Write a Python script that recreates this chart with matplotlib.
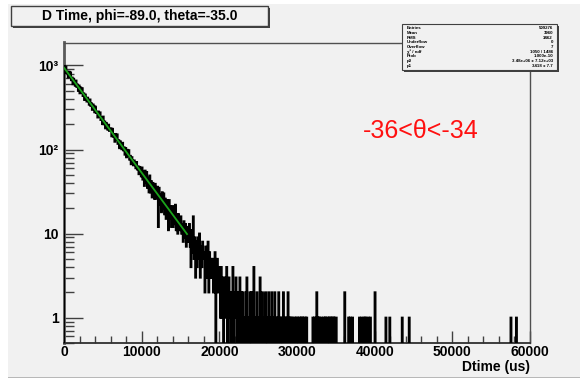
import numpy as np
import matplotlib
matplotlib.use("Agg")
import matplotlib.pyplot as plt
from matplotlib.patches import Rectangle

plt.rcParams['font.family'] = ['Liberation Sans', 'DejaVu Sans']

# ---------------- data ----------------
x_min, x_max = 0, 60000
bin_width = 100
# counts of bins 0..299 (0 - 30000 us)
dense_counts = [
    986, 829, 966, 816, 839, 719, 842, 740, 824, 669,
    717, 599, 693, 632, 574, 660, 557, 591, 499, 576,
    467, 546, 480, 535, 434, 465, 389, 450, 411, 373,
    413, 377, 342, 393, 331, 353, 297, 343, 330, 278,
    323, 274, 281, 241, 282, 248, 276, 225, 240, 201,
    246, 200, 215, 179, 207, 189, 172, 197, 167, 177,
    178, 144, 176, 143, 150, 124, 153, 131, 151, 117,
    129, 104, 125, 113, 101, 120, 98, 106, 87, 104,
    81, 99, 85, 98, 76, 84, 67, 81, 73, 65,
    74, 67, 60, 71, 58, 63, 51, 62, 60, 48,
    61, 44, 55, 37, 56, 40, 54, 35, 46, 31,
    49, 31, 42, 27, 40, 30, 26, 39, 26, 34,
    36, 12, 35, 22, 29, 18, 31, 20, 30, 17,
    26, 15, 25, 17, 11, 25, 15, 21, 12, 21,
    12, 21, 13, 22, 11, 17, 10, 17, 11, 12,
    16, 10, 13, 8, 14, 9, 13, 7, 12, 8,
    9, 13, 7, 4, 11, 6, 16, 5, 9, 3,
    8, 4, 9, 5, 10, 3, 7, 4, 8, 5,
    6, 2, 7, 3, 5, 8, 2, 6, 3, 5,
    3, 5, 2, 4, 6, 0, 3, 5, 2, 4,
    3, 1, 4, 1, 3, 0, 2, 3, 1, 4,
    0, 2, 3, 1, 0, 2, 0, 4, 0, 2,
    1, 3, 0, 2, 0, 1, 3, 0, 2, 0,
    2, 0, 1, 0, 2, 3, 0, 1, 0, 2,
    0, 2, 0, 1, 4, 0, 1, 0, 2, 0,
    1, 0, 3, 0, 1, 2, 0, 1, 0, 2,
    0, 1, 0, 2, 0, 1, 0, 2, 0, 1,
    0, 2, 0, 1, 0, 1, 2, 0, 1, 0,
    1, 0, 2, 0, 1, 0, 1, 0, 2, 0,
    1, 0, 1, 0, 1, 0, 0, 1, 0, 1,
]
# sparse tail (bins 300..599): bin index and count
tail_bins = [300, 302, 303, 305, 307, 309, 310, 312,
             320, 322, 325, 326, 328, 330, 331, 334, 336, 338, 339, 341, 343, 345, 347, 349, 350,
             361, 366, 368, 371, 380, 383, 386, 388, 391, 394, 400, 414, 419, 435, 444, 575, 582]
tail_counts = [1, 1, 1, 1, 1, 1, 1, 1,
               1, 1, 2, 1, 1, 1, 1, 1, 1, 1, 1, 1, 1, 1, 1, 1, 1,
               2, 1, 1, 1, 1, 1, 1, 1, 1, 1, 2, 1, 1, 1, 1, 1, 1]

# exponential fit
fit_amp = 940.0
fit_tau = 3477.0
fit_range = (0, 15840)

title = "D Time, phi=-89.0, theta=-35.0"
xlabel = "Dtime (us)"
annot = "-36<θ<-34"
stat_names = ["Entries", "Mean", "RMS", "Underflow", "Overflow",
              "χ² / ndf", "Prob", "p0", "p1"]
stat_values = ["509276", "3960", "3462", "0", "7",
               "1050 / 1486", "1.000e-10", "3.48e+06 ± 7.12e+03", "3418 ± 7.7"]

# ---------------- build histogram ----------------
n_bins = (x_max - x_min) // bin_width
counts = np.zeros(n_bins)
counts[:len(dense_counts)] = dense_counts
counts[np.array(tail_bins)] = tail_counts
edges = np.linspace(x_min, x_max, n_bins + 1)
plot_counts = np.where(counts > 0, counts, 1e-3)

W, H = 580, 380
fig = plt.figure(figsize=(W / 100, H / 100), dpi=100)
fig.patch.set_facecolor('white')
bg = '#f1f1f1'
fig.add_artist(Rectangle((8 / W, 3 / H), (W - 8) / W, (H - 7) / H,
                         transform=fig.transFigure, facecolor=bg, edgecolor='none', zorder=0))
fig.add_artist(Rectangle((8 / W, 2 / H), (W - 8) / W, 1.5 / H,
                         transform=fig.transFigure, facecolor='#b8b8b8', edgecolor='none', zorder=0))

L, R, T, B = 64, 530, 42.5, 343
ax = fig.add_axes([L / W, (H - B) / H, (R - L) / W, (B - T) / H])
ax.set_facecolor(bg)
ax.stairs(plot_counts, edges, baseline=1e-3, color='black', lw=1.5, zorder=3)

xf = np.linspace(fit_range[0], fit_range[1], 200)
ax.plot(xf, fit_amp * np.exp(-xf / fit_tau), color='#1aa31a', lw=1.3, zorder=4)

ax.set_yscale('log')
ax.set_xlim(x_min, x_max)
ax.set_ylim(0.5, 1875)

ax.set_xticks(np.arange(0, 60001, 10000))
ax.set_xticks(np.arange(0, 60001, 2000), minor=True)
ax.set_xticklabels([f"{v}" for v in range(0, 60001, 10000)],
                   fontsize=10, fontweight='bold')
ax.set_yticks([1, 10, 100, 1000])
ax.set_yticklabels(["1", "10", "10²", "10³"], fontsize=10, fontweight='bold')
ax.yaxis.set_minor_locator(matplotlib.ticker.LogLocator(base=10, subs=np.arange(2, 10)))
ax.yaxis.set_minor_formatter(matplotlib.ticker.NullFormatter())
ax.tick_params(axis='both', which='both', direction='in', color='#404040', width=1,
               top=False, right=False)
ax.tick_params(axis='y', which='major', length=14, pad=4)
ax.tick_params(axis='y', which='minor', length=7)
ax.tick_params(axis='x', which='major', length=9, pad=1.5)
ax.tick_params(axis='x', which='minor', length=5)

for s in ['top', 'right']:
    ax.spines[s].set_color('#505050')
    ax.spines[s].set_linewidth(1.0)
ax.spines['left'].set_color('#5a5a5a')
ax.spines['left'].set_linewidth(2.0)
ax.spines['bottom'].set_color('#303030')
ax.spines['bottom'].set_linewidth(1.3)

fig.text(R / W, 1 - 367 / H, xlabel, ha='right', va='center', fontsize=10, fontweight='bold')
fig.text(363 / W, 1 - 131 / H, annot, ha='left', va='center', fontsize=18, color='#ff1010')

def box(x0, y0, x1, y1, lw=1.0):
    fig.add_artist(Rectangle(((x0 + 2) / W, 1 - (y1 + 2) / H), (x1 - x0) / W, (y1 - y0) / H,
                             transform=fig.transFigure, facecolor='#404040', edgecolor='none', zorder=5))
    fig.add_artist(Rectangle((x0 / W, 1 - y1 / H), (x1 - x0) / W, (y1 - y0) / H,
                             transform=fig.transFigure, facecolor=bg, edgecolor='#404040',
                             lw=lw, zorder=6))

# title box
box(11, 6, 268, 26)
fig.text(140 / W, 1 - 16 / H, title, ha='center', va='center', fontsize=10,
         fontweight='bold', zorder=7)

# stats box
sx0, sy0, sx1, sy1 = 402, 24, 557, 70
box(sx0, sy0, sx1, sy1, lw=0.8)
row_h = (sy1 - sy0 - 4) / len(stat_names)
for k, (n, v) in enumerate(zip(stat_names, stat_values)):
    yy = sy0 + 2 + row_h * (k + 0.5)
    fig.text((sx0 + 5) / W, 1 - yy / H, n, ha='left', va='center', fontsize=3.2,
             fontweight='bold', zorder=7)
    fig.text((sx1 - 4) / W, 1 - yy / H, v, ha='right', va='center', fontsize=3.2,
             fontweight='bold', zorder=7)

fig.savefig("out.png", dpi=100, facecolor=fig.get_facecolor())
